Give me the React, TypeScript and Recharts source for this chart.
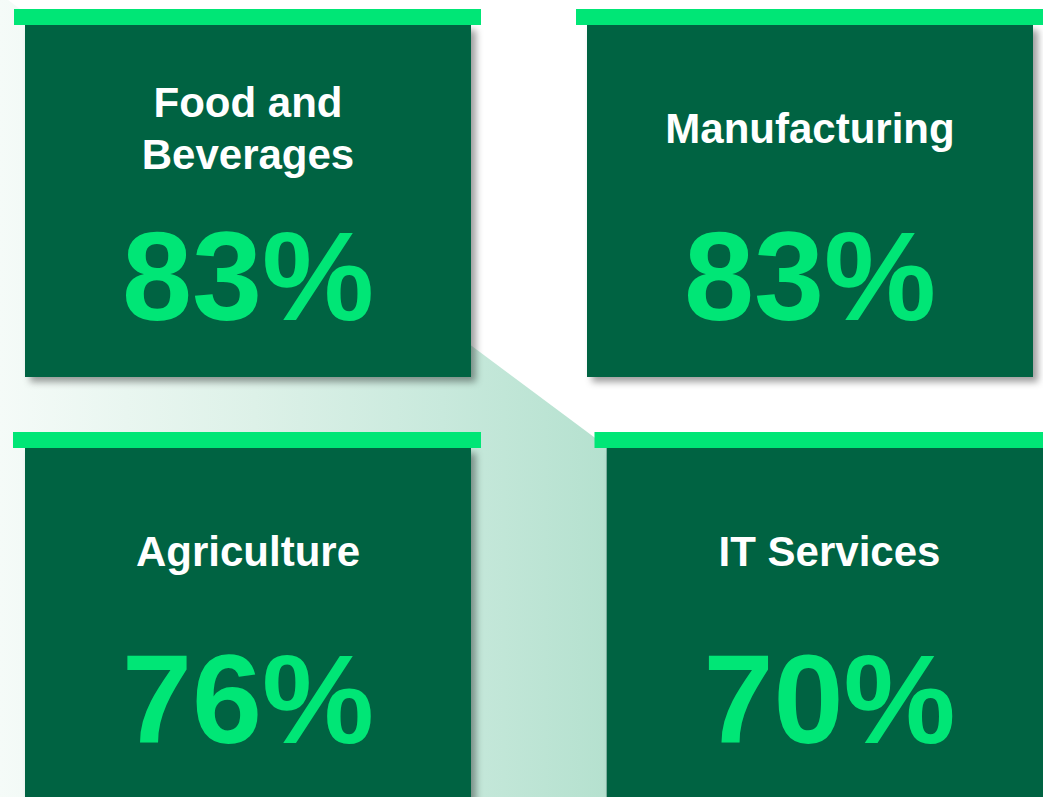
import React from "react";
import { BarChart, Bar, XAxis, YAxis } from "recharts";

// sector cards
const sectors = ["Food and Beverages", "Manufacturing", "Agriculture", "IT Services"];
const sectorLines = [["Food and", "Beverages"], ["Manufacturing"], ["Agriculture"], ["IT Services"]];
const shares = [83, 83, 76, 70];

const DARK = "#006442";
const BRIGHT = "#00e676";
const FONT = "'Liberation Sans', Arial, Helvetica, sans-serif";

const rows = [
  sectors.slice(0, 2).map((s, i) => ({ sector: s, lines: sectorLines[i], share: shares[i] })),
  sectors.slice(2, 4).map((s, i) => ({ sector: s, lines: sectorLines[i + 2], share: shares[i + 2] })),
];

function makeCard(top: number, plotHeight: number, padL: number, padR: number) {
  return (props: any) => {
    const { x, width, payload } = props;
    const bg = props.background && props.background.height ? props.background : { y: top, height: plotHeight };
    const cx = x + width / 2;
    const lines: string[] = payload.lines;
    const y0 = bg.y;
    return (
      <g>
        <rect x={x} y={y0} width={width} height={bg.height} fill={DARK} filter="url(#cardShadow)" />
        <rect x={x - padL} y={y0 - 16} width={width + padL + padR} height={16} fill={BRIGHT} />
        {lines.map((l, i) => (
          <text
            key={l}
            x={cx}
            y={y0 + 118 - (lines.length - 1) * 26 + i * 52}
            textAnchor="middle"
            fill="#ffffff"
            fontFamily={FONT}
            fontWeight={700}
            fontSize={42}
          >
            {l}
          </text>
        ))}
        <text
          x={cx}
          y={y0 + 295}
          textAnchor="middle"
          fill={BRIGHT}
          fontFamily={FONT}
          fontWeight={700}
          fontSize={126}
        >
          {payload.share}%
        </text>
      </g>
    );
  };
}

function Row({ data, left, top, width, height, margin, padL, padR }: any) {
  const plotH = height - margin.top - margin.bottom;
  return (
    <div style={{ position: "absolute", left, top, width, height }}>
      <BarChart width={width} height={height} data={data} margin={margin}>
        <defs>
          <filter id="cardShadow" x="-10%" y="-10%" width="130%" height="130%">
            <feDropShadow dx="5" dy="5" stdDeviation="3.5" floodColor="#000" floodOpacity="0.38" />
          </filter>
        </defs>
        <XAxis dataKey="sector" hide />
        <YAxis hide domain={[0, 100]} />
        <Bar
          dataKey="share"
          barSize={446}
          isAnimationActive={false}
          shape={makeCard(margin.top, plotH, padL, padR)}
        />
      </BarChart>
    </div>
  );
}

export default function App() {
  return (
    <div
      style={{
        position: "absolute",
        left: 0,
        top: 0,
        width: 1043,
        height: 797,
        overflow: "hidden",
        background: "#ffffff",
      }}
    >
      <svg width={1043} height={797} style={{ position: "absolute", left: 0, top: 0 }}>
        <defs>
          <linearGradient id="mint" x1="0" y1="0" x2="1" y2="0">
            <stop offset="0" stopColor="#f5fbf8" />
            <stop offset="0.42" stopColor="#ddf1e8" />
            <stop offset="0.73" stopColor="#c8e9dc" />
            <stop offset="1" stopColor="#b5e1cf" />
          </linearGradient>
        </defs>
        <polygon points="0,-6 606,446 606,797 0,797" fill="url(#mint)" />
      </svg>
      <Row
        data={rows[0]}
        left={-33}
        top={0}
        width={1124}
        height={400}
        margin={{ top: 25, right: 0, bottom: 23, left: 0 }}
        padL={11}
        padR={10}
      />
      <Row
        data={rows[1]}
        left={-43}
        top={400}
        width={1163}
        height={420}
        margin={{ top: 48, right: 0, bottom: 0, left: 0 }}
        padL={12}
        padR={10}
      />
    </div>
  );
}
